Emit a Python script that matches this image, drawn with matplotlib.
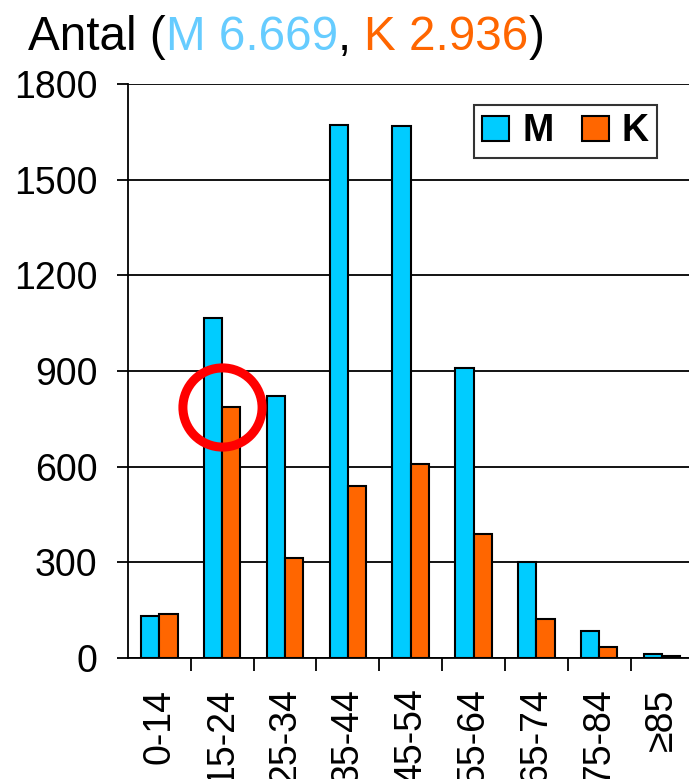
import numpy as np
import matplotlib
matplotlib.use("Agg")
import matplotlib.pyplot as plt

plt.rcParams['font.family'] = ['Liberation Sans', 'DejaVu Sans']

# age groups and counts (M = men, K = women)
ages = ['0-14', '15-24', '25-34', '35-44', '45-54', '55-64', '65-74', '75-84', '≥85']
men = [133, 1065, 823, 1672, 1668, 910, 300, 86, 12]
women = [139, 788, 314, 538, 609, 388, 121, 34, 5]
yticks = [0, 300, 600, 900, 1200, 1500, 1800]

col_m = '#00CCFF'
col_k = '#FF6600'

fig = plt.figure(figsize=(6.89, 7.79), dpi=100)
ax = fig.add_axes([128/689, 121/779, 561/689, 574/779])

x = np.arange(len(ages))
w = 0.29
ax.bar(x - w/2, men, w, color=col_m, edgecolor='black', linewidth=1.5, label='M', zorder=3)
ax.bar(x + w/2, women, w, color=col_k, edgecolor='black', linewidth=1.5, label='K', zorder=3)

ax.set_ylim(0, 1800)
ax.set_xlim(-0.5, 8.43)
ax.set_yticks(yticks)
ax.set_yticklabels([str(v) for v in yticks], fontsize=27)
ax.tick_params(axis='y', length=8, width=1.3, pad=14)
for v in yticks:
    ax.axhline(v, color='black', lw=1.3, zorder=1)

ax.set_xticks(x)
ax.set_xticklabels(ages, rotation=90, fontsize=27)
ax.tick_params(axis='x', which='major', length=0, pad=22)
ax.set_xticks(np.arange(len(ages) - 1) + 0.5, minor=True)
ax.tick_params(axis='x', which='minor', length=9, width=1.3, direction='out')

for s in ['top', 'right']:
    ax.spines[s].set_visible(False)
for s in ['left', 'bottom']:
    ax.spines[s].set_linewidth(1.3)

leg = ax.legend(loc='upper right', bbox_to_anchor=(0.943, 0.963), ncol=2,
                prop={'weight': 'bold', 'size': 27}, frameon=True, fancybox=False,
                edgecolor='black', borderaxespad=0, handlelength=0.72, handleheight=0.66,
                handletextpad=0.35, columnspacing=0.75, borderpad=0.22)
leg.get_frame().set_linewidth(1.5)
leg.set_zorder(5)

# red circle marking the 15-24 women bar
ax.plot([1], [women[1]], marker='o', markersize=57, markerfacecolor='none',
        markeredgecolor='#FF0000', markeredgewidth=6.5, clip_on=False, zorder=6)

# multi-coloured title
parts = [('Antal (', 'black'), ('M 6.669', '#66CCFF'), (', ', 'black'),
         ('K 2.936', col_k), (')', 'black')]
fig.canvas.draw()
r = fig.canvas.get_renderer()
xpos = 28
for txt, c in parts:
    t = fig.text(xpos / 689, (779 - 50) / 779, txt, color=c, fontsize=34.3, va='baseline', ha='left')
    bb = t.get_window_extent(renderer=r)
    xpos += bb.width

fig.savefig('out.png', dpi=100)
